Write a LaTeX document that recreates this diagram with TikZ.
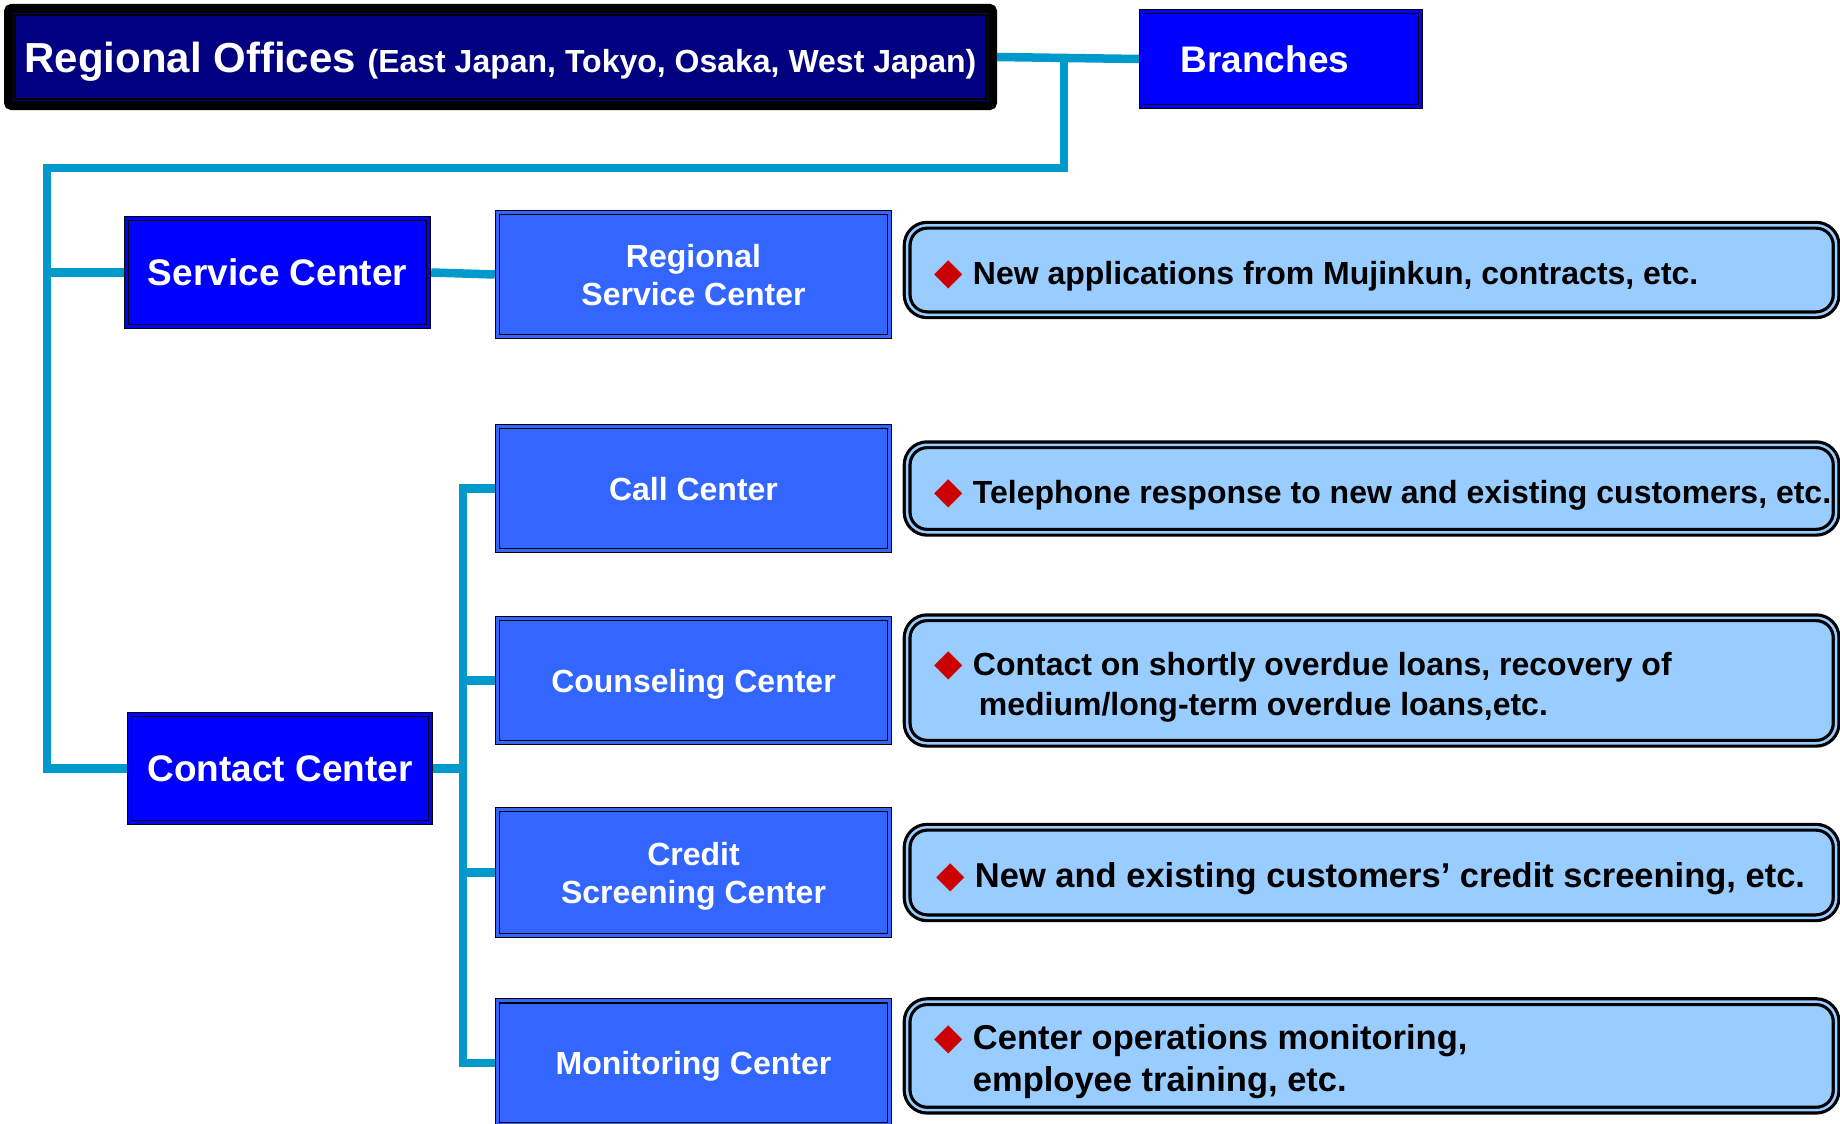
\documentclass[tikz,border=0pt]{standalone}
\usepackage{fontspec}
\setmainfont{Liberation Sans}
\newfontfamily\symfont{DejaVu Sans}
\usepackage{xcolor}
\usetikzlibrary{positioning,calc}

\definecolor{linkcyan}{HTML}{0099CC}
\definecolor{navyfill}{HTML}{000080}
\definecolor{deepblue}{HTML}{0000FF}
\definecolor{midblue}{HTML}{3366FF}
\definecolor{paleblue}{HTML}{99CCFF}
\definecolor{bulred}{HTML}{CC0000}

\newcommand{\redmark}{\makebox[38pt][l]{\textcolor{bulred}{\symfont\fontsize{37}{37}\selectfont ◆}}}

\begin{document}
\begin{tikzpicture}[x=1pt, y=1pt,
    office/.style={rectangle, draw=black, line width=9pt, rounded corners=3pt, fill=navyfill, outer sep=4.5pt, minimum width=984pt, minimum height=97pt, text=white, text depth=0pt, font=\bfseries},
    unit/.style={rectangle, draw=black, line width=1.2pt, double=deepblue, double distance=3pt, fill=deepblue, outer sep=2.7pt, minimum height=108pt, text=white, text depth=0pt, font=\fontsize{37}{44}\selectfont\bfseries},
    subunit/.style={unit, fill=midblue, double=midblue, minimum width=392pt, minimum height=124pt, align=center, font=\fontsize{32}{38}\selectfont\bfseries},
    duty/.style={rectangle, rounded corners=20pt, draw=black, line width=3.2pt, double=paleblue, double distance=2.5pt, fill=paleblue, outer sep=4.45pt, minimum width=929pt},
    dutytext/.style={inner sep=0pt, align=left, text=black, yshift=-6pt, font=\fontsize{32}{40}\selectfont\bfseries},
    bigduty/.style={dutytext, font=\fontsize{34.5}{42}\selectfont\bfseries},
    link/.style={draw=linkcyan, line width=8.5pt}]

    \useasboundingbox (0,0) rectangle (1840,-1124);

    % Head office row
    \node[office] (regional) at (500.5,-57) {\fontsize{42}{50}\selectfont Regional Offices\ \fontsize{32}{40}\selectfont(East Japan, Tokyo, Osaka, West Japan)};
    \draw[black, line width=1.3pt] ([shift={(11pt,-11pt)}]regional.north west) rectangle ([shift={(-11pt,11pt)}]regional.south east);
    \node[unit, minimum width=279pt, minimum height=95pt] (branches) at (1281,-59) {Branches\hspace*{32pt}};

    % Centers
    \node[unit, minimum width=302pt] (service) at (277.5,-272.5) {Service Center};
    \node[unit, minimum width=301pt] (contact) at (280,-768.5) {Contact Center};

    \node[subunit] (regsvc) at (693.5,-274.5) {Regional\\Service Center};
    \node[subunit, below=84.6pt of regsvc] (call) {Call Center};
    \node[subunit, below=62.6pt of call] (couns) {Counseling Center};
    \node[subunit, below=61.6pt of couns, minimum height=126pt] (credit) {Credit\\Screening Center};
    \node[subunit, below=60pt of credit] (monit) {Monitoring Center};

    % Duties
    \node[duty, minimum height=89.5pt, right=10.5pt of regsvc, yshift=4.5pt] (d1) {};
    \node[duty, minimum height=87.5pt, right=10.5pt of call] (d2) {};
    \node[duty, minimum height=125.5pt, right=10.5pt of couns] (d3) {};
    \node[duty, minimum height=90.5pt, right=10.5pt of credit] (d4) {};
    \node[duty, minimum height=108.5pt, right=10.5pt of monit, yshift=7pt] (d5) {};

    \node[dutytext, right=32pt of d1.west] (d1t) {\redmark New applications from Mujinkun, contracts, etc.};
    \node[dutytext, right=32pt of d2.west] (d2t) {\redmark Telephone response to new and existing customers, etc.};
    \node[dutytext, right=32pt of d3.west] (d3t) {\redmark Contact on shortly overdue loans, recovery of\\\hspace*{44pt}medium/long-term overdue loans,etc.};
    \node[bigduty, right=34pt of d4.west] (d4t) {\redmark New and existing customers’ credit screening, etc.};
    \node[bigduty, right=32pt of d5.west] (d5t) {\redmark Center operations monitoring,\\\hspace*{38pt}employee training, etc.};

    % Connectors
    \coordinate (trunk) at (47,-168);
    \coordinate (drop) at (1064,-168);
    \coordinate (bus) at (463,-768.5);

    \draw[link] (regional.east) -- (branches.west);
    \draw[link] (drop |- branches.west) -- (drop) -- (trunk) |- (contact.west);
    \draw[link] (trunk |- service.west) -- (service.west);
    \draw[link] (service.east) -- (regsvc.west);
    \draw[link] (contact.east) -- (bus);
    \draw[link] (call.west) -- (bus |- call.west) -- (bus |- monit.west) -- (monit.west);
    \draw[link] (couns.west) -- (bus |- couns.west);
    \draw[link] (credit.west) -- (bus |- credit.west);

\end{tikzpicture}
\end{document}
